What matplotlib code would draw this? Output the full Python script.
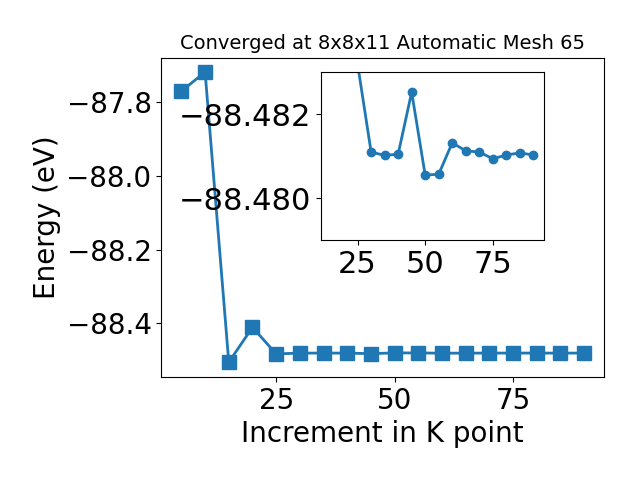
import numpy as np
import matplotlib
matplotlib.use("Agg")
import matplotlib.pyplot as plt
from matplotlib.ticker import ScalarFormatter

# k-point increments and total energies (eV)
kpoints = [5, 10, 15, 20, 25, 30, 35, 40, 45, 50, 55, 60, 65, 70, 75, 80, 85, 90]
energy = [-87.770, -87.7185, -88.506, -88.411, -88.4832, -88.48110, -88.48102,
          -88.48105, -88.48253, -88.48055, -88.48057, -88.48132, -88.48113,
          -88.48110, -88.48094, -88.48103, -88.48108, -88.48103]

title = "Converged at 8x8x11 Automatic Mesh 65"
x_ticks = [25, 50, 75]
inset_yticks = [-88.482, -88.480]
inset_start = 4  # inset begins at 25

fig = plt.figure(figsize=(6.4, 4.8), dpi=100)
ax = fig.add_axes([0.252, 0.215, 0.692, 0.665])
ax.plot(kpoints, energy, marker='s', markersize=10, linewidth=2, color='#1f77b4')
ax.set_xlabel('Increment in K point', fontsize=20)
ax.set_ylabel('Energy (eV)', fontsize=20)
ax.set_title(title, fontsize=14)
ax.set_xticks(x_ticks)
ax.tick_params(labelsize=20)

ins = fig.add_axes([0.501, 0.5, 0.349, 0.349])
ins.plot(kpoints[inset_start:], energy[inset_start:], marker='o', markersize=6,
         linewidth=2, color='#1f77b4')
ins.set_xlim(11.33, 93.95)
ins.set_ylim(-88.479, -88.483)
ins.set_xticks(x_ticks)
ins.set_yticks(inset_yticks)
fmt = ScalarFormatter(useOffset=False)
ins.yaxis.set_major_formatter(fmt)
ins.tick_params(labelsize=22)

fig.savefig('out.png')
